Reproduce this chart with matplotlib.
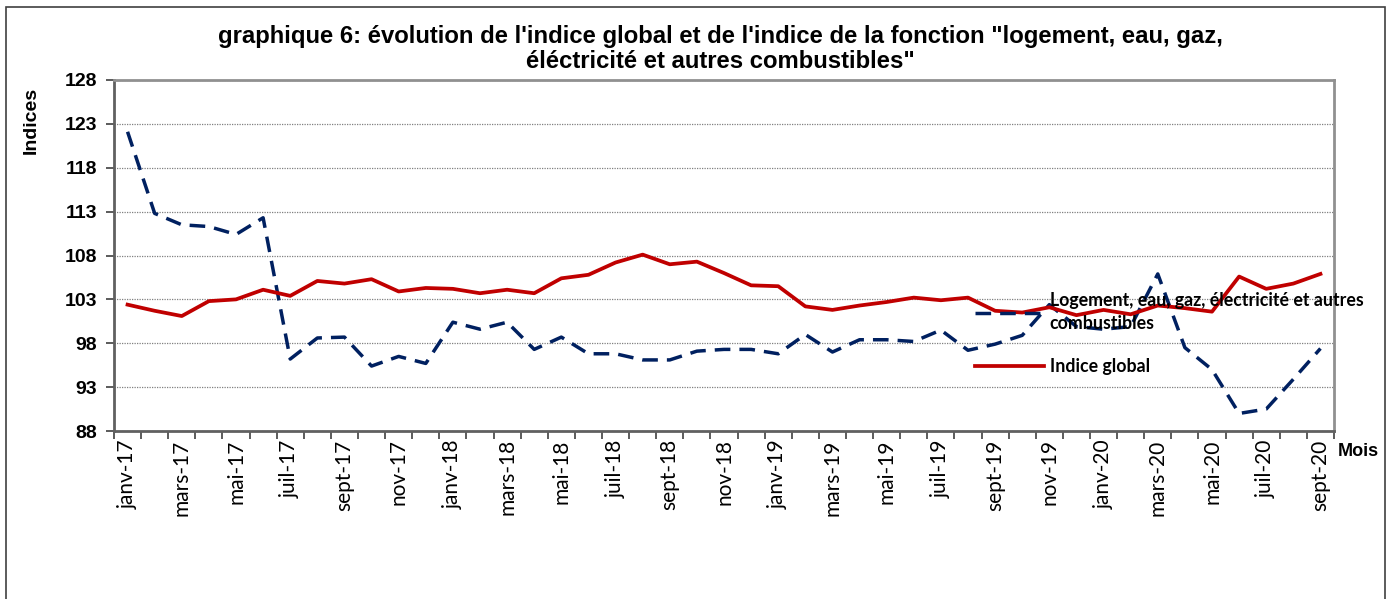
import matplotlib
matplotlib.use('Agg')
import matplotlib.pyplot as plt
from matplotlib.patches import Rectangle
import numpy as np

# mois de janv-17 a sept-20
mois_fr = ["janv", "févr", "mars", "avr", "mai", "juin", "juil", "août", "sept", "oct", "nov", "déc"]
mois = [f"{mois_fr[m]}-{a}" for a in (17, 18, 19, 20) for m in range(12)][:45]

logement = [122.1, 112.8, 111.5, 111.3, 110.4, 112.3, 96.2, 98.6, 98.7, 95.4,
             96.5, 95.7, 100.4, 99.6, 100.4, 97.3, 98.7, 96.8, 96.8, 96.1,
             96.1, 97.1, 97.3, 97.3, 96.8, 99.0, 97.0, 98.4, 98.4, 98.2,
             99.5, 97.2, 97.9, 98.9, 102.4, 99.9, 99.6, 99.9, 105.9, 97.5,
             95.0, 90.0, 90.5, 93.9, 97.4]

indice_global = [102.4, 101.7, 101.1, 102.8, 103.0, 104.1, 103.4, 105.1, 104.8, 105.3,
                 103.9, 104.3, 104.2, 103.7, 104.1, 103.7, 105.4, 105.8, 107.2, 108.1,
                 107.0, 107.3, 106.0, 104.6, 104.5, 102.2, 101.8, 102.3, 102.7, 103.2,
                 102.9, 103.2, 101.7, 101.5, 102.1, 101.2, 101.8, 101.3, 102.3, 102.0,
                 101.6, 105.6, 104.2, 104.8, 105.9]

y_ticks = [88, 93, 98, 103, 108, 113, 118, 123, 128]

fig = plt.figure(figsize=(13.9, 5.99), dpi=100)
ax = fig.add_axes([114 / 1390, 1 - 431 / 599, 1220 / 1390, 351 / 599])

x = np.arange(len(mois))
ax.plot(x, logement, color="#002060", lw=2.5, linestyle=(0, (4.5, 2.6)),
        label="Logement, eau, gaz, électricité et autres\ncombustibles")
ax.plot(x, indice_global, color="#C00000", lw=2.7,
        label="Indice global")

ax.set_xlim(-0.5, len(mois) - 0.5)
ax.set_ylim(88, 128)
ax.set_yticks(y_ticks)
ax.set_yticklabels([str(v) for v in y_ticks], fontsize=14, fontweight="bold",
                   family="Liberation Sans")
ax.yaxis.grid(True, linestyle=(0, (1, 1)), color="#808080", lw=0.9)
ax.set_axisbelow(True)

ax.set_xticks(x[::2])
ax.set_xticklabels(mois[::2], rotation=90, fontsize=15, family="Lato")
ax.set_xticks(np.arange(-0.5, len(mois)), minor=True)
ax.tick_params(axis="x", which="major", length=0, pad=6)
ax.tick_params(axis="x", which="minor", length=6, color="#404040", width=1.2)
ax.tick_params(axis="y", length=6, color="#404040", width=1.2, pad=6)

for side in ["left", "bottom"]:
    ax.spines[side].set_color("#606060")
    ax.spines[side].set_linewidth(2)
for side in ["top", "right"]:
    ax.spines[side].set_color("#909090")
    ax.spines[side].set_linewidth(2)

ax.set_ylabel("Indices", fontsize=14, fontweight="bold", family="Liberation Sans")
ax.yaxis.set_label_coords(-0.061, 0.886)
ax.set_xlabel("Mois", fontsize=13, fontweight="bold", family="Liberation Sans")
ax.xaxis.set_label_coords(1.02, -0.035)

fig.suptitle("graphique 6: évolution de l'indice global et de l'indice de la fonction \"logement, eau, gaz,\n"
             "éléctricité et autres combustibles\"",
             x=0.518, y=0.958, fontsize=17.2, fontweight="bold", family="Liberation Sans",
             linespacing=1.08)

leg = ax.legend(loc="upper left", bbox_to_anchor=((975 - 114) / 1220, (431 - 292) / 351),
                frameon=False, prop={"family": "Lato", "weight": "bold", "size": 12.8},
                handlelength=3.9, handletextpad=0.3, labelspacing=1.5, borderaxespad=0,
                borderpad=0)
for t in leg.get_texts():
    t.set_linespacing(1.4)

# cadre exterieur du graphique
fig.patches.append(Rectangle((6 / 1390, -0.05), 1379 / 1390, 1.05 - 7 / 599,
                             transform=fig.transFigure, fill=False,
                             edgecolor="#404040", lw=1.2))

fig.savefig("out.png", dpi=100)
